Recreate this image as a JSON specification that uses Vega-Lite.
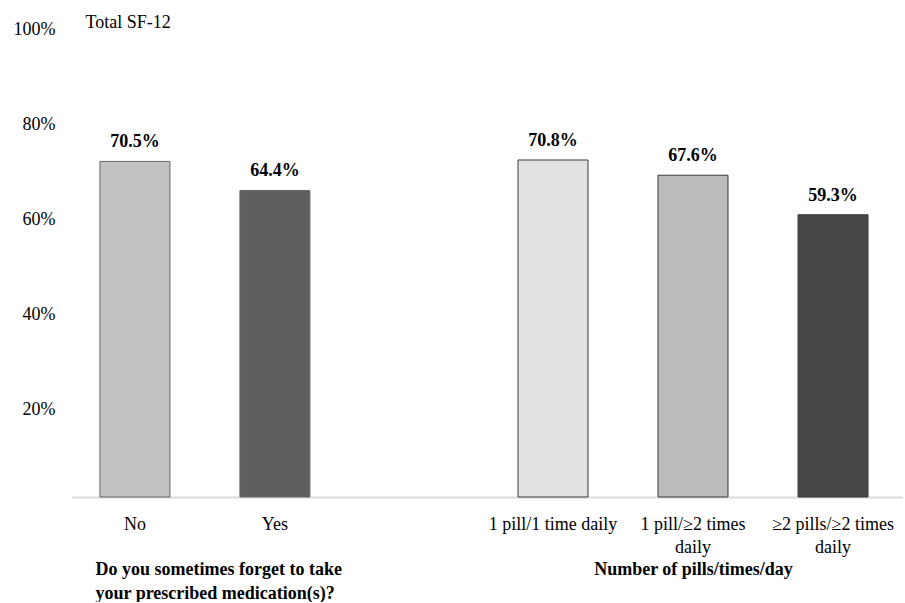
{
  "$schema": "https://vega.github.io/schema/vega-lite/v6.json",
  "padding": {"left": 13, "top": 13, "right": 0, "bottom": 0},
  "background": "white",
  "config": {
    "view": {"stroke": null},
    "font": "Liberation Serif",
    "axis": {"labelFont": "Liberation Serif", "titleFont": "Liberation Serif", "labelColor": "#000000", "titleColor": "#000000"}
  },
  "datasets": {
    "forget": [
      {"group": "No", "pct": 0.705},
      {"group": "Yes", "pct": 0.644}
    ],
    "pills": [
      {"group": "1 pill/1 time daily", "pct": 0.708},
      {"group": "1 pill/≥2 times daily", "pct": 0.676},
      {"group": "≥2 pills/≥2 times daily", "pct": 0.593}
    ]
  },
  "hconcat": [
    {
      "width": 411,
      "height": 476,
      "data": {"name": "forget"},
      "layer": [
        {
          "mark": {"type": "bar", "stroke": "#666666", "strokeWidth": 1},
          "encoding": {
            "x": {
              "field": "group", "type": "nominal", "sort": null,
              "scale": {"paddingInner": 0.5, "paddingOuter": 0.718, "align": 0.139},
              "axis": {
                "title": ["Do you sometimes forget to take", "your prescribed medication(s)?"],
                "titleFontWeight": "bold", "titleFontSize": 18, "titleLineHeight": 24,
                "titleAlign": "left", "titleAnchor": "start", "titleX": 23, "titleY": 63, "titleBaseline": "top",
                "labelFontSize": 18, "labelAngle": 0, "labelPadding": 18, "ticks": false,
                "domainColor": "#dcdcdc", "domainWidth": 2
              }
            },
            "y": {
              "field": "pct", "type": "quantitative",
              "scale": {"domain": [0, 1], "nice": false},
              "axis": {
                "values": [0.2, 0.4, 0.6, 0.8, 1.0], "format": ".0%",
                "labelFontSize": 18, "labelPadding": 17, "labelOffset": 8,
                "ticks": false, "domain": false, "grid": false,
                "title": "Total SF-12", "titleAngle": 0, "titleAlign": "left", "titleBaseline": "middle",
                "titleX": 13, "titleY": 1, "titleFontSize": 18, "titleFontWeight": "normal"
              }
            },
            "color": {
              "field": "group", "type": "nominal", "legend": null,
              "scale": {"domain": ["No", "Yes"], "range": ["#c0c1c0", "#5f5f5f"]}
            }
          }
        },
        {
          "mark": {"type": "text", "fontWeight": "bold", "fontSize": 18, "baseline": "middle", "dy": -19, "color": "#000000"},
          "encoding": {
            "x": {"field": "group", "type": "nominal", "sort": null},
            "y": {"field": "pct", "type": "quantitative"},
            "text": {"field": "pct", "type": "quantitative", "format": ".1%"}
          }
        }
      ]
    },
    {
      "width": 420,
      "height": 476,
      "data": {"name": "pills"},
      "layer": [
        {
          "mark": {"type": "bar", "stroke": "#3a3a3a", "strokeWidth": 1},
          "encoding": {
            "x": {
              "field": "group", "type": "nominal", "sort": null,
              "scale": {"paddingInner": 0.5, "paddingOuter": 0.25},
              "axis": {
                "title": "Number of pills/times/day",
                "titleFontWeight": "bold", "titleFontSize": 18,
                "titleAlign": "center", "titleX": 210, "titleY": 63, "titleBaseline": "top",
                "labelFontSize": 18, "labelAngle": 0, "labelPadding": 18, "ticks": false, "labelLineHeight": 23,
                "labelExpr": "datum.label == '1 pill/1 time daily' ? datum.label : [replace(datum.label, ' daily', ''), 'daily']",
                "domainColor": "#dcdcdc", "domainWidth": 2
              }
            },
            "y": {
              "field": "pct", "type": "quantitative",
              "scale": {"domain": [0, 1], "nice": false},
              "axis": null
            },
            "color": {
              "field": "group", "type": "nominal", "legend": null,
              "scale": {"domain": ["1 pill/1 time daily", "1 pill/≥2 times daily", "≥2 pills/≥2 times daily"], "range": ["#e1e2e1", "#bbbbbb", "#474747"]}
            }
          }
        },
        {
          "mark": {"type": "text", "fontWeight": "bold", "fontSize": 18, "baseline": "middle", "dy": -19, "color": "#000000"},
          "encoding": {
            "x": {"field": "group", "type": "nominal", "sort": null},
            "y": {"field": "pct", "type": "quantitative"},
            "text": {"field": "pct", "type": "quantitative", "format": ".1%"}
          }
        }
      ]
    }
  ],
  "spacing": 0,
  "bounds": "flush",
  "resolve": {"scale": {"color": "independent", "x": "independent", "y": "independent"}}
}
